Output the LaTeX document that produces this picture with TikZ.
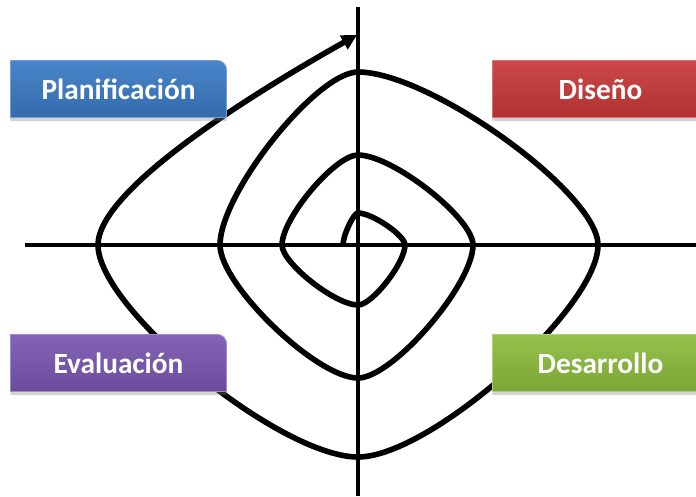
\documentclass[tikz,border=0pt]{standalone}
\usepackage{fontspec}
\setmainfont{Carlito}
\usetikzlibrary{arrows.meta,calc,backgrounds,shadows}
\pgfdeclarelayer{lines}
\pgfsetlayers{lines,background,main}
\definecolor{planblue}{RGB}{58,122,196}
\definecolor{disred}{RGB}{200,56,56}
\definecolor{evalpurple}{RGB}{122,86,176}
\definecolor{desgreen}{RGB}{140,188,60}
% one quarter turn of the spiral: from #1 to #3, bending towards corner #2
\newcommand\turn[3]{.. controls ($(#1)!.3!(#2)$) and ($(#3)!.3!(#2)$) .. (#3)}
\begin{document}
\begin{tikzpicture}[x=.03cm,y=-.03cm,line width=4.3pt,
  every node/.style={font=\fontsize{25}{30}\selectfont\bfseries,text=white,inner sep=0pt},
  stagebox/.style={minimum width=6.33cm,minimum height=1.56cm},
  boxshade/.style={line width=.8pt,drop shadow={opacity=.35,shadow xshift=0pt,shadow yshift=-3pt}},
  spiral/.style={line width=4.8pt,line join=round},
  axis/.style={line width=3.8pt}]
  \path[use as bounding box] (0,0) rectangle (696,496);
  % stages
  \node[stagebox] (plan) at (118.5,89) {Planificación};
  \node[stagebox] (dis) at (600.5,89) {Diseño};
  \node[stagebox] (eval) at (118.5,363) {Evaluación};
  \node[stagebox] (des) at (600.5,363) {Desarrollo};
  \begin{scope}[on background layer]
    \shade[boxshade,top color=planblue!92!white,bottom color=planblue!88!black,draw=planblue!70!white]
      (plan.south west) -- (plan.north west) [rounded corners=8pt] -- (plan.north east) [sharp corners] -- (plan.south east) -- cycle;
    \shade[boxshade,top color=disred!92!white,bottom color=disred!88!black,draw=disred!70!white]
      (dis.south west) -- (dis.north west) [rounded corners=8pt] -- (dis.north east) [sharp corners] -- (dis.south east) -- cycle;
    \shade[boxshade,top color=evalpurple!92!white,bottom color=evalpurple!88!black,draw=evalpurple!70!white]
      (eval.south west) -- (eval.north west) [rounded corners=8pt] -- (eval.north east) [sharp corners] -- (eval.south east) -- cycle;
    \shade[boxshade,top color=desgreen!92!white,bottom color=desgreen!88!black,draw=desgreen!70!white]
      (des.south west) -- (des.north west) [rounded corners=8pt] -- (des.north east) [sharp corners] -- (des.south east) -- cycle;
  \end{scope}
  \begin{pgfonlayer}{lines}
  % axes
  \draw[axis] (358,7) -- (358,496);
  \draw[axis] (25,245) -- (696,245);
  % spiral
  \coordinate (s0) at (343,245);
  \coordinate (t1) at (358,213);
  \coordinate (r1) at (405,245);
  \coordinate (b1) at (358,305);
  \coordinate (l1) at (282,245);
  \coordinate (t2) at (358,155);
  \coordinate (r2) at (473,245);
  \coordinate (b2) at (358,378);
  \coordinate (l2) at (220,245);
  \coordinate (t3) at (358,72);
  \coordinate (r3) at (598,245);
  \coordinate (b3) at (358,457);
  \coordinate (l3) at (98,245);
  \coordinate (tip) at (357,35);
  \draw[spiral,-{Triangle[length=13pt,width=13pt]}] (s0)
    \turn{s0}{s0 |- t1}{t1} \turn{t1}{t1 -| r1}{r1}
    \turn{r1}{r1 |- b1}{b1} \turn{b1}{b1 -| l1}{l1}
    \turn{l1}{l1 |- t2}{t2} \turn{t2}{t2 -| r2}{r2}
    \turn{r2}{r2 |- b2}{b2} \turn{b2}{b2 -| l2}{l2}
    \turn{l2}{l2 |- t3}{t3} \turn{t3}{t3 -| r3}{r3}
    \turn{r3}{r3 |- b3}{b3} \turn{b3}{b3 -| l3}{l3}
    .. controls (98,190) and (250,95) .. (tip);
  \end{pgfonlayer}
\end{tikzpicture}
\end{document}
